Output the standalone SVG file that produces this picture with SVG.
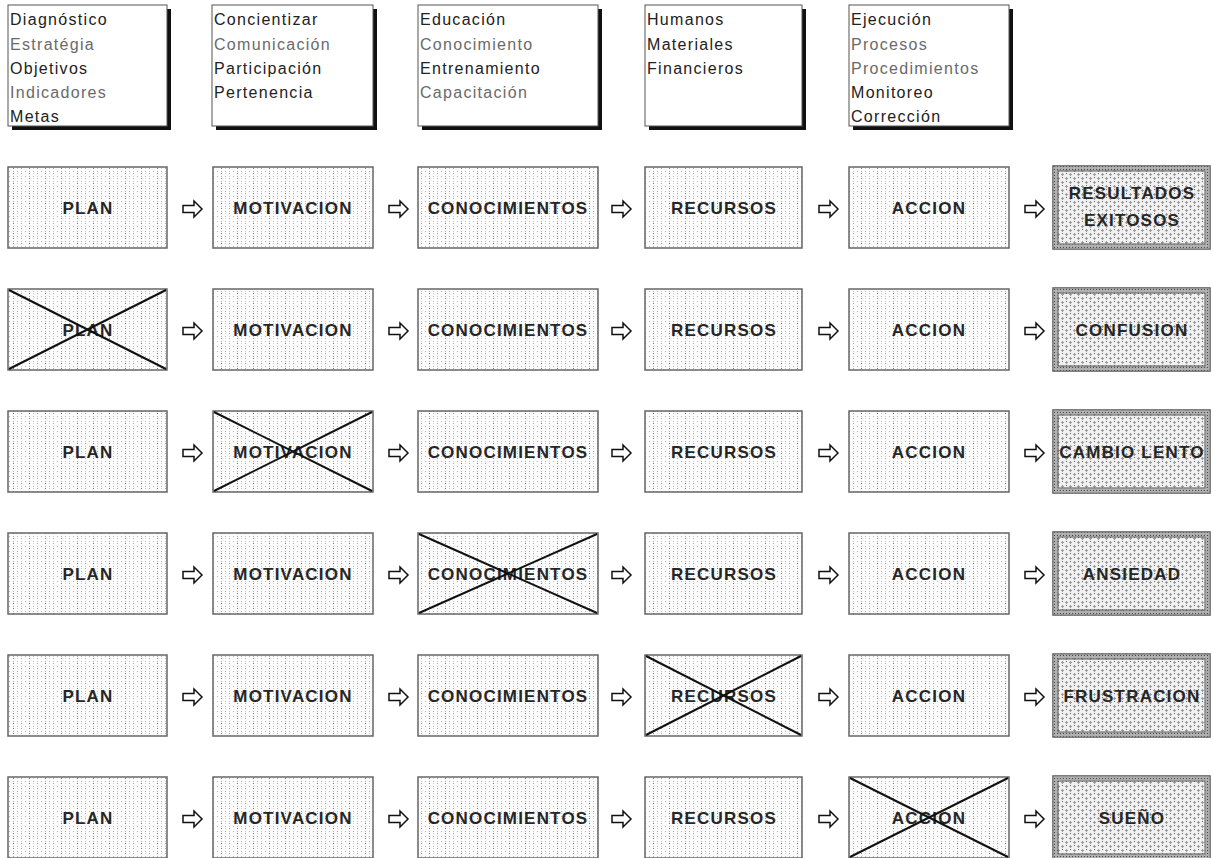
<svg xmlns="http://www.w3.org/2000/svg" width="1213" height="858" viewBox="0 0 1213 858">
<defs>
<pattern id="dots" width="16" height="5" patternUnits="userSpaceOnUse">
<rect width="16" height="5" fill="#fcfcfc"/>
<rect x="1" y="1" width="1" height="1" fill="#b4b4b4"/>
<rect x="5" y="3" width="1" height="1" fill="#a8a8a8"/>
<rect x="9" y="1" width="1" height="1" fill="#b4b4b4"/>
<rect x="13" y="3" width="1" height="1" fill="#777"/>
<rect x="5" y="1" width="1" height="1" fill="#c8c8c8"/>
<rect x="13" y="1" width="1" height="1" fill="#aaa"/>
<rect x="1" y="3" width="1" height="1" fill="#d0d0d0"/>
</pattern>
<pattern id="dense" width="8" height="8" patternUnits="userSpaceOnUse">
<rect width="8" height="8" fill="#f0f0f0"/>
<path d="M2 1h1v1h1v1h-1v1h-1v-1h-1v-1h1z" fill="#9c9c9c"/>
<path d="M6 5h1v1h1v1h-1v1h-1v-1h-1v-1h1z" fill="#9c9c9c"/>
<rect x="6" y="1" width="1" height="1" fill="#666"/>
<rect x="2" y="5" width="1" height="1" fill="#666"/>
</pattern>
<pattern id="band" width="3" height="3" patternUnits="userSpaceOnUse">
<rect width="3" height="3" fill="#b0b0b0"/>
<rect x="1" y="1" width="1" height="1" fill="#444"/>
</pattern>
<path id="arr" d="M0,-3.5 H11 V-8 L19,0 L11,8 V3.5 H0 Z"/>
</defs>
<style>
.lst{fill:#fff;stroke:#555;stroke-width:1}
.shd{fill:#111}
.t{font-family:"Liberation Sans",Arial,sans-serif;font-size:16px;letter-spacing:1.3px}
.d{fill:#222}
.g{fill:#6a6a6a}
.box{fill:url(#dots);stroke:#666;stroke-width:1.5}
.res{fill:url(#dense);stroke:#555;stroke-width:1.5}
.resb{fill:none;stroke:url(#band);stroke-width:4}
.resi{fill:none;stroke:#555;stroke-width:1}
.lbl{font-family:"Liberation Sans",Arial,sans-serif;font-size:17px;font-weight:bold;letter-spacing:1.2px;fill:#262626;text-anchor:middle}
.x{stroke:#111;stroke-width:2}
.ar{fill:#fff;stroke:#111;stroke-width:1.5;stroke-linejoin:miter}
</style>
<rect width="1213" height="858" fill="#fff"/>

<!-- top list boxes -->
<g id="list-plan">
<rect class="shd" x="12" y="9" width="159" height="121"/>
<rect class="lst" x="8" y="5" width="159" height="121"/>
<text class="t" x="10" y="25"><tspan class="d">Diagnóstico</tspan><tspan class="g" x="10" y="49.5">Estratégia</tspan><tspan class="d" x="10" y="74">Objetivos</tspan><tspan class="g" x="10" y="98">Indicadores</tspan><tspan class="d" x="10" y="122">Metas</tspan></text>
</g>
<g id="list-motivacion">
<rect class="shd" x="216" y="9" width="161" height="121"/>
<rect class="lst" x="212" y="5" width="161" height="121"/>
<text class="t" x="214" y="25"><tspan class="d">Concientizar</tspan><tspan class="g" x="214" y="49.5">Comunicación</tspan><tspan class="d" x="214" y="74">Participación</tspan><tspan class="d" x="214" y="98">Pertenencia</tspan></text>
</g>
<g id="list-conocimientos">
<rect class="shd" x="422" y="9" width="180" height="121"/>
<rect class="lst" x="418" y="5" width="180" height="121"/>
<text class="t" x="420" y="25"><tspan class="d">Educación</tspan><tspan class="g" x="420" y="49.5">Conocimiento</tspan><tspan class="d" x="420" y="74">Entrenamiento</tspan><tspan class="g" x="420" y="98">Capacitación</tspan></text>
</g>
<g id="list-recursos">
<rect class="shd" x="649" y="9" width="157" height="121"/>
<rect class="lst" x="645" y="5" width="157" height="121"/>
<text class="t" x="647" y="25"><tspan class="d">Humanos</tspan><tspan class="d" x="647" y="49.5">Materiales</tspan><tspan class="d" x="647" y="74">Financieros</tspan></text>
</g>
<g id="list-accion">
<rect class="shd" x="853" y="9" width="160" height="121"/>
<rect class="lst" x="849" y="5" width="160" height="121"/>
<text class="t" x="851" y="25"><tspan class="d">Ejecución</tspan><tspan class="g" x="851" y="49.5">Procesos</tspan><tspan class="g" x="851" y="74">Procedimientos</tspan><tspan class="d" x="851" y="98">Monitoreo</tspan><tspan class="d" x="851" y="122">Corrección</tspan></text>
</g>

<!-- Row 1 -->
<g id="r1-plan"><rect class="box" x="8" y="167" width="159" height="81"/><text class="lbl" x="88" y="214">PLAN</text></g>
<g id="r1-motivacion"><rect class="box" x="213" y="167" width="160" height="81"/><text class="lbl" x="293" y="214">MOTIVACION</text></g>
<g id="r1-conocimientos"><rect class="box" x="418" y="167" width="180" height="81"/><text class="lbl" x="508" y="214">CONOCIMIENTOS</text></g>
<g id="r1-recursos"><rect class="box" x="645" y="167" width="157" height="81"/><text class="lbl" x="724" y="214">RECURSOS</text></g>
<g id="r1-accion"><rect class="box" x="849" y="167" width="160" height="81"/><text class="lbl" x="929" y="214">ACCION</text></g>
<g id="r1-resultado"><rect class="res" x="1053" y="166" width="157" height="83"/><rect class="resb" x="1055.5" y="168.5" width="152" height="78"/><rect class="resi" x="1058" y="171" width="147" height="73"/><text class="lbl" x="1132" y="199">RESULTADOS</text><text class="lbl" x="1132" y="226">EXITOSOS</text></g>

<!-- Row 2 -->
<g id="r2-plan"><rect class="box" x="8" y="289" width="159" height="81"/><text class="lbl" x="88" y="336">PLAN</text><line class="x" x1="9" y1="290" x2="166" y2="369"/><line class="x" x1="9" y1="369" x2="166" y2="290"/></g>
<g id="r2-motivacion"><rect class="box" x="213" y="289" width="160" height="81"/><text class="lbl" x="293" y="336">MOTIVACION</text></g>
<g id="r2-conocimientos"><rect class="box" x="418" y="289" width="180" height="81"/><text class="lbl" x="508" y="336">CONOCIMIENTOS</text></g>
<g id="r2-recursos"><rect class="box" x="645" y="289" width="157" height="81"/><text class="lbl" x="724" y="336">RECURSOS</text></g>
<g id="r2-accion"><rect class="box" x="849" y="289" width="160" height="81"/><text class="lbl" x="929" y="336">ACCION</text></g>
<g id="r2-resultado"><rect class="res" x="1053" y="288" width="157" height="83"/><rect class="resb" x="1055.5" y="290.5" width="152" height="78"/><rect class="resi" x="1058" y="293" width="147" height="73"/><text class="lbl" x="1132" y="336">CONFUSION</text></g>

<!-- Row 3 -->
<g id="r3-plan"><rect class="box" x="8" y="411" width="159" height="81"/><text class="lbl" x="88" y="458">PLAN</text></g>
<g id="r3-motivacion"><rect class="box" x="213" y="411" width="160" height="81"/><text class="lbl" x="293" y="458">MOTIVACION</text><line class="x" x1="214" y1="412" x2="372" y2="491"/><line class="x" x1="214" y1="491" x2="372" y2="412"/></g>
<g id="r3-conocimientos"><rect class="box" x="418" y="411" width="180" height="81"/><text class="lbl" x="508" y="458">CONOCIMIENTOS</text></g>
<g id="r3-recursos"><rect class="box" x="645" y="411" width="157" height="81"/><text class="lbl" x="724" y="458">RECURSOS</text></g>
<g id="r3-accion"><rect class="box" x="849" y="411" width="160" height="81"/><text class="lbl" x="929" y="458">ACCION</text></g>
<g id="r3-resultado"><rect class="res" x="1053" y="410" width="157" height="83"/><rect class="resb" x="1055.5" y="412.5" width="152" height="78"/><rect class="resi" x="1058" y="415" width="147" height="73"/><text class="lbl" x="1132" y="458">CAMBIO LENTO</text></g>

<!-- Row 4 -->
<g id="r4-plan"><rect class="box" x="8" y="533" width="159" height="81"/><text class="lbl" x="88" y="580">PLAN</text></g>
<g id="r4-motivacion"><rect class="box" x="213" y="533" width="160" height="81"/><text class="lbl" x="293" y="580">MOTIVACION</text></g>
<g id="r4-conocimientos"><rect class="box" x="418" y="533" width="180" height="81"/><text class="lbl" x="508" y="580">CONOCIMIENTOS</text><line class="x" x1="419" y1="534" x2="597" y2="613"/><line class="x" x1="419" y1="613" x2="597" y2="534"/></g>
<g id="r4-recursos"><rect class="box" x="645" y="533" width="157" height="81"/><text class="lbl" x="724" y="580">RECURSOS</text></g>
<g id="r4-accion"><rect class="box" x="849" y="533" width="160" height="81"/><text class="lbl" x="929" y="580">ACCION</text></g>
<g id="r4-resultado"><rect class="res" x="1053" y="532" width="157" height="83"/><rect class="resb" x="1055.5" y="534.5" width="152" height="78"/><rect class="resi" x="1058" y="537" width="147" height="73"/><text class="lbl" x="1132" y="580">ANSIEDAD</text></g>

<!-- Row 5 -->
<g id="r5-plan"><rect class="box" x="8" y="655" width="159" height="81"/><text class="lbl" x="88" y="702">PLAN</text></g>
<g id="r5-motivacion"><rect class="box" x="213" y="655" width="160" height="81"/><text class="lbl" x="293" y="702">MOTIVACION</text></g>
<g id="r5-conocimientos"><rect class="box" x="418" y="655" width="180" height="81"/><text class="lbl" x="508" y="702">CONOCIMIENTOS</text></g>
<g id="r5-recursos"><rect class="box" x="645" y="655" width="157" height="81"/><text class="lbl" x="724" y="702">RECURSOS</text><line class="x" x1="646" y1="656" x2="801" y2="735"/><line class="x" x1="646" y1="735" x2="801" y2="656"/></g>
<g id="r5-accion"><rect class="box" x="849" y="655" width="160" height="81"/><text class="lbl" x="929" y="702">ACCION</text></g>
<g id="r5-resultado"><rect class="res" x="1053" y="654" width="157" height="83"/><rect class="resb" x="1055.5" y="656.5" width="152" height="78"/><rect class="resi" x="1058" y="659" width="147" height="73"/><text class="lbl" x="1132" y="702">FRUSTRACION</text></g>

<!-- Row 6 -->
<g id="r6-plan"><rect class="box" x="8" y="777" width="159" height="81"/><text class="lbl" x="88" y="824">PLAN</text></g>
<g id="r6-motivacion"><rect class="box" x="213" y="777" width="160" height="81"/><text class="lbl" x="293" y="824">MOTIVACION</text></g>
<g id="r6-conocimientos"><rect class="box" x="418" y="777" width="180" height="81"/><text class="lbl" x="508" y="824">CONOCIMIENTOS</text></g>
<g id="r6-recursos"><rect class="box" x="645" y="777" width="157" height="81"/><text class="lbl" x="724" y="824">RECURSOS</text></g>
<g id="r6-accion"><rect class="box" x="849" y="777" width="160" height="81"/><text class="lbl" x="929" y="824">ACCION</text><line class="x" x1="850" y1="857" x2="1008" y2="778"/><line class="x" x1="850" y1="778" x2="1008" y2="857"/></g>
<g id="r6-resultado"><rect class="res" x="1053" y="776" width="157" height="83"/><rect class="resb" x="1055.5" y="778.5" width="152" height="78"/><rect class="resi" x="1058" y="781" width="147" height="73"/><text class="lbl" x="1132" y="824">SUEÑO</text></g>

<!-- connectors -->
<g id="connectors">
<use href="#arr" class="ar" x="183" y="209"/><use href="#arr" class="ar" x="389" y="209"/><use href="#arr" class="ar" x="612" y="209"/><use href="#arr" class="ar" x="819" y="209"/><use href="#arr" class="ar" x="1025" y="209"/>
<use href="#arr" class="ar" x="183" y="331"/><use href="#arr" class="ar" x="389" y="331"/><use href="#arr" class="ar" x="612" y="331"/><use href="#arr" class="ar" x="819" y="331"/><use href="#arr" class="ar" x="1025" y="331"/>
<use href="#arr" class="ar" x="183" y="453"/><use href="#arr" class="ar" x="389" y="453"/><use href="#arr" class="ar" x="612" y="453"/><use href="#arr" class="ar" x="819" y="453"/><use href="#arr" class="ar" x="1025" y="453"/>
<use href="#arr" class="ar" x="183" y="575"/><use href="#arr" class="ar" x="389" y="575"/><use href="#arr" class="ar" x="612" y="575"/><use href="#arr" class="ar" x="819" y="575"/><use href="#arr" class="ar" x="1025" y="575"/>
<use href="#arr" class="ar" x="183" y="697"/><use href="#arr" class="ar" x="389" y="697"/><use href="#arr" class="ar" x="612" y="697"/><use href="#arr" class="ar" x="819" y="697"/><use href="#arr" class="ar" x="1025" y="697"/>
<use href="#arr" class="ar" x="183" y="819"/><use href="#arr" class="ar" x="389" y="819"/><use href="#arr" class="ar" x="612" y="819"/><use href="#arr" class="ar" x="819" y="819"/><use href="#arr" class="ar" x="1025" y="819"/>
</g>
</svg>
